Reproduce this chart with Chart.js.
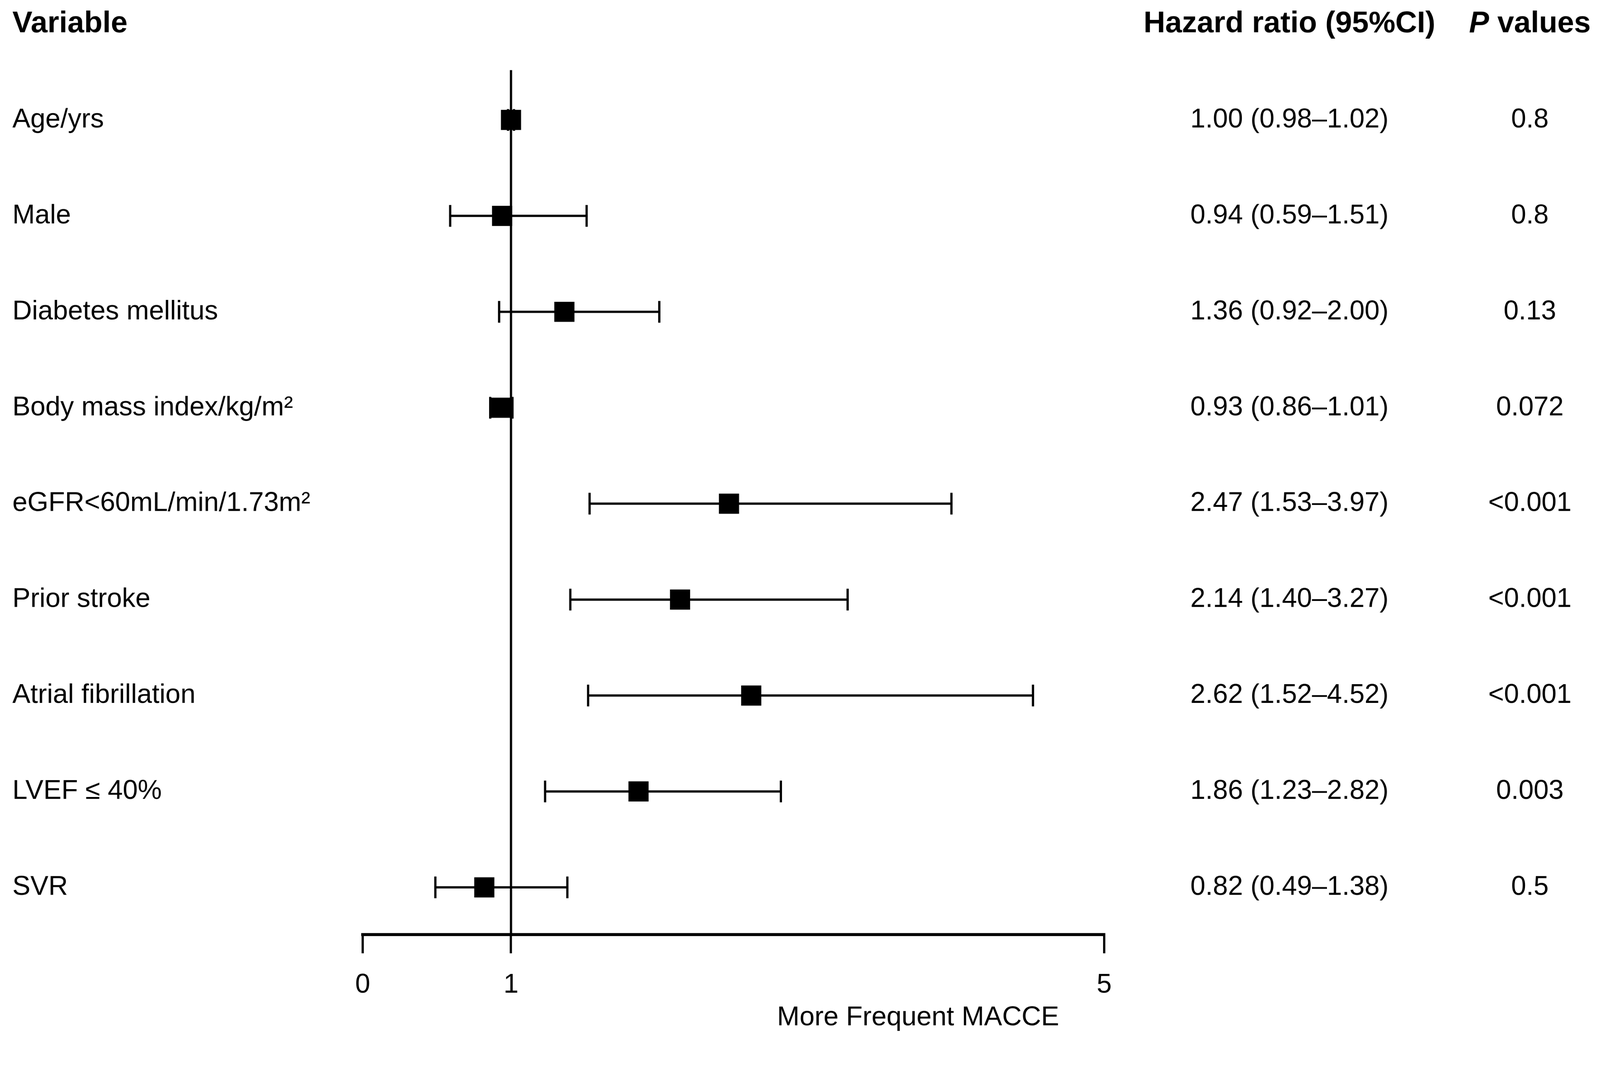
<!DOCTYPE html>
<html>
<head>
<meta charset="utf-8">
<script src="https://cdn.jsdelivr.net/npm/chart.js@4"></script>
<style>
  html, body { margin: 0; padding: 0; background: #fff; overflow: hidden; }
  canvas { display: block; }
</style>
</head>
<body>
<!-- bitmap is 4266x2776; css keeps that aspect at the window width -->
<canvas id="forest" width="4266" height="2776" style="width:100vw;height:65.073vw"></canvas>
<script>
// === Data ===
const variables = ['Age/yrs', 'Male', 'Diabetes mellitus', 'Body mass index/kg/m²', 'eGFR<60mL/min/1.73m²',
                   'Prior stroke', 'Atrial fibrillation', 'LVEF ≤ 40%', 'SVR'];
const hazardRatio = [1.00, 0.94, 1.36, 0.93, 2.47, 2.14, 2.62, 1.86, 0.82];
const ciLow = [0.98, 0.59, 0.92, 0.86, 1.53, 1.40, 1.52, 1.23, 0.49];
const ciHigh = [1.02, 1.51, 2.00, 1.01, 3.97, 3.27, 4.52, 2.82, 1.38];
const pValues = ['0.8', '0.8', '0.13', '0.072', '<0.001', '<0.001', '<0.001', '0.003', '0.5'];
const xTicks = [0, 1, 5];
const xTitle = 'More Frequent MACCE';
const varHeader = 'Variable';
const hrHeader = 'Hazard ratio (95%CI)';

// === Layout ===
const FONT = "'Liberation Sans', Arial, Helvetica, sans-serif";
const Y_MIN = -1.055;      // header row sits at -1
const Y_MAX = 8.492;
const REF_TOP = -0.52;     // where the line at HR = 1 starts
const HR_COL_X = 3438;
const P_COL_X = 4079;
const TITLE_AT = 3.745;    // title centre in axis units
const TITLE_GAP = 222;     // title centre below the axis line

const rows = variables.map((_, i) => i);
const hrLabels = rows.map(i =>
    `${hazardRatio[i].toFixed(2)} (${ciLow[i].toFixed(2)}–${ciHigh[i].toFixed(2)})`);

// CI segments, one gap (null) between rows
const ciData = [];
rows.forEach(i => {
    ciData.push({ x: ciLow[i], y: i }, { x: ciHigh[i], y: i }, { x: ciHigh[i], y: null });
});

// === Column texts + axis title ===
const columnText = {
    id: 'columnText',
    afterDraw(chart) {
        const { ctx } = chart;
        const yScale = chart.scales.y;
        const xScale = chart.scales.x;
        ctx.save();
        ctx.fillStyle = '#000';
        ctx.textBaseline = 'middle';

        // headers
        const headY = yScale.getPixelForValue(-1);
        ctx.textAlign = 'center';
        ctx.font = `bold 80px ${FONT}`;
        ctx.fillText(hrHeader, HR_COL_X, headY);

        ctx.textAlign = 'left';
        ctx.font = `italic bold 80px ${FONT}`;
        const pW = ctx.measureText('P').width;
        ctx.font = `bold 80px ${FONT}`;
        const restW = ctx.measureText(' values').width;
        const startX = P_COL_X - (pW + restW) / 2;
        ctx.font = `italic bold 80px ${FONT}`;
        ctx.fillText('P', startX, headY);
        ctx.font = `bold 80px ${FONT}`;
        ctx.fillText(' values', startX + pW, headY);

        // rows
        ctx.textAlign = 'center';
        ctx.font = `72px ${FONT}`;
        rows.forEach(i => {
            const py = yScale.getPixelForValue(i);
            ctx.fillText(hrLabels[i], HR_COL_X, py);
            ctx.fillText(pValues[i], P_COL_X, py);
        });

        // x-axis title
        ctx.fillText(xTitle, xScale.getPixelForValue(TITLE_AT), xScale.top + TITLE_GAP);
        ctx.restore();
    }
};

const chart = new Chart(document.getElementById('forest').getContext('2d'), {
    type: 'scatter',
    data: {
        datasets: [
            {
                label: 'Hazard ratio',
                data: rows.map(i => ({ x: hazardRatio[i], y: i })),
                pointStyle: 'rect',
                pointRadius: 38,
                pointHoverRadius: 38,
                backgroundColor: '#000',
                borderColor: '#000',
                borderWidth: 0
            },
            {
                label: '95% CI',
                data: ciData,
                showLine: true,
                borderColor: '#000',
                borderWidth: 6,
                pointStyle: 'line',
                pointRotation: 90,
                pointRadius: 29,
                pointBorderWidth: 6,
                pointBorderColor: '#000',
                spanGaps: false
            },
            {
                label: 'Reference',
                data: [{ x: 1, y: REF_TOP }, { x: 1, y: Y_MAX }],
                showLine: true,
                borderColor: '#000',
                borderWidth: 6,
                pointRadius: 0
            }
        ]
    },
    options: {
        responsive: false,
        devicePixelRatio: 1,
        animation: false,
        layout: { padding: { left: 33, top: 50, right: 1322, bottom: 83 } },
        plugins: {
            legend: { display: false },
            tooltip: { enabled: false }
        },
        scales: {
            x: {
                type: 'linear',
                min: 0,
                max: 5,
                afterBuildTicks: s => { s.ticks = xTicks.map(v => ({ value: v })); },
                afterFit: s => { s.height = 200; },
                grid: {
                    display: true,
                    drawOnChartArea: false,
                    drawTicks: true,
                    tickLength: 50,
                    lineWidth: 6,
                    color: '#000'
                },
                border: { display: true, width: 8, color: '#000' },
                ticks: {
                    color: '#000',
                    font: { family: FONT, size: 72 },
                    padding: 42,
                    maxRotation: 0,
                    autoSkip: false
                }
            },
            y: {
                type: 'linear',
                reverse: true,
                min: Y_MIN,
                max: Y_MAX,
                afterBuildTicks: s => { s.ticks = [-1, ...rows].map(v => ({ value: v })); },
                afterFit: s => { s.width = 934; },
                grid: { display: false, drawTicks: false },
                border: { display: false },
                ticks: {
                    color: '#000',
                    crossAlign: 'far',
                    padding: 0,
                    autoSkip: false,
                    callback: v => v === -1 ? varHeader : variables[v],
                    font: c => (c.tick && c.tick.value === -1)
                        ? { family: FONT, size: 80, weight: 'bold' }
                        : { family: FONT, size: 72 }
                }
            }
        }
    },
    plugins: [columnText]
});
</script>
</body>
</html>
